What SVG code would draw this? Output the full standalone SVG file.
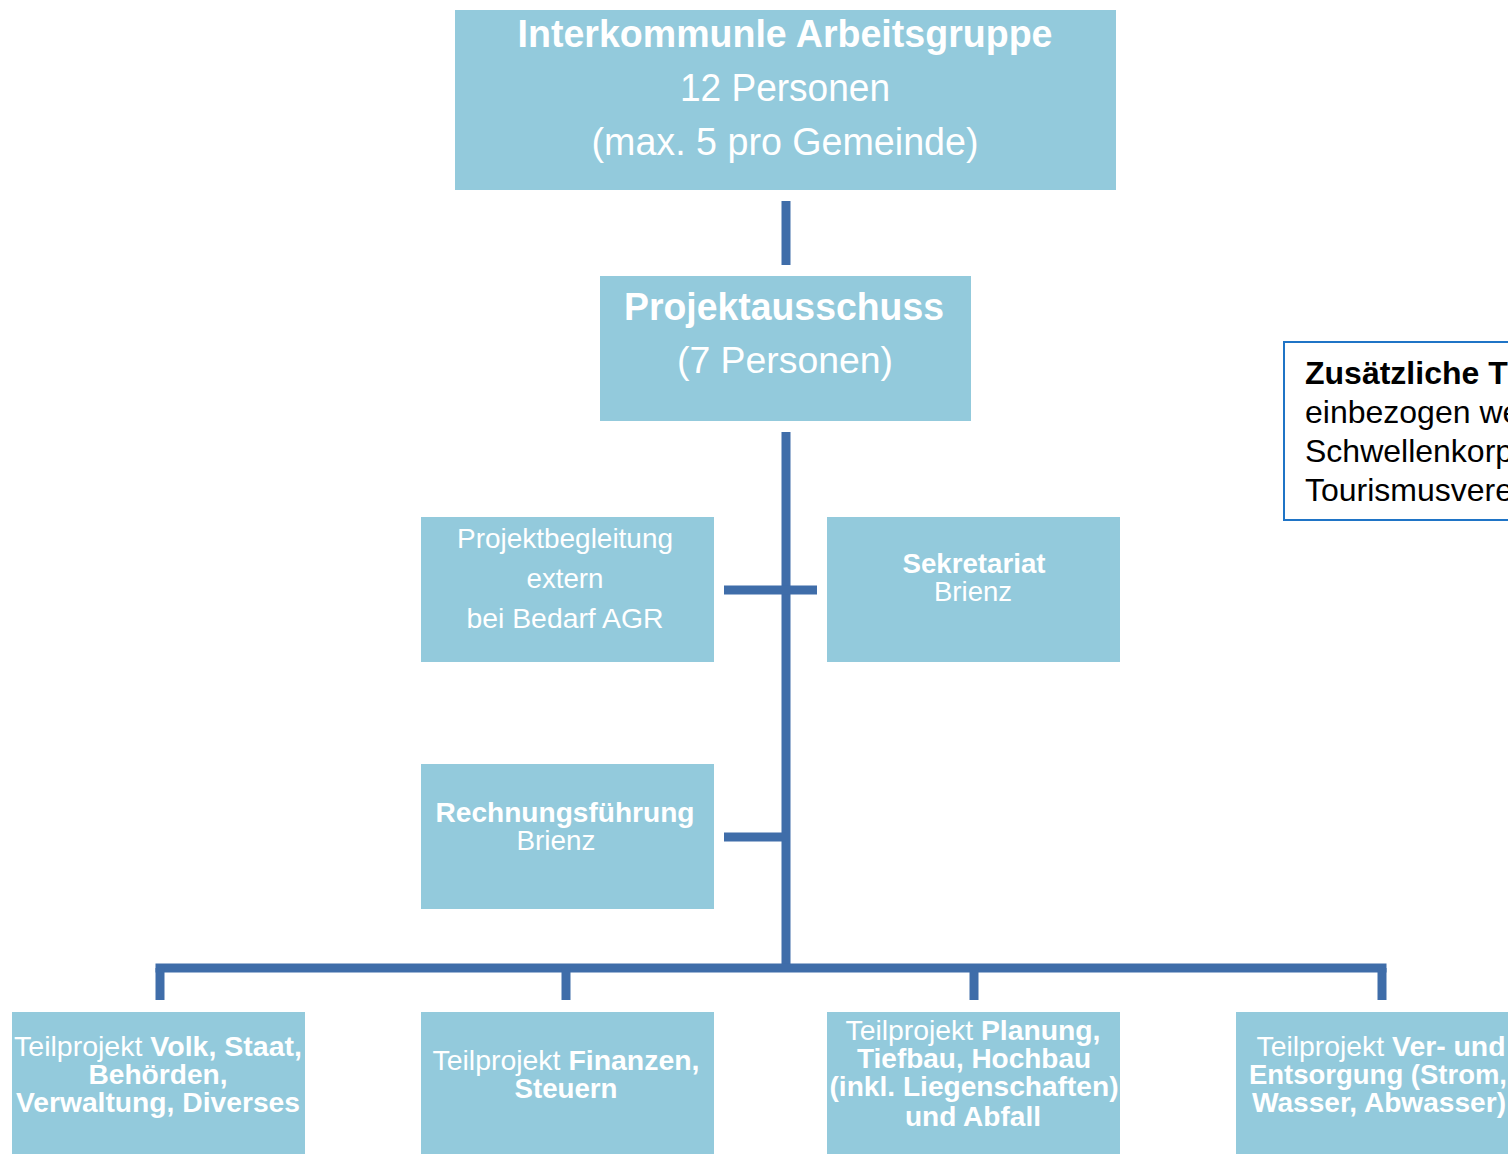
<svg xmlns="http://www.w3.org/2000/svg" width="1508" height="1154" viewBox="0 0 1508 1154">
<style>
.box{fill:#93CADC}
.t{font-family:"Liberation Sans",Arial,sans-serif;fill:#ffffff;text-anchor:middle}
.b{font-weight:bold}
.c{stroke:#3F6DA9;stroke-width:9;fill:none}
.note{font-family:"Liberation Sans",Arial,sans-serif;fill:#000;font-size:32px}
</style>
<rect width="1508" height="1154" fill="#fff"/>
<g id="connectors">
<line class="c" x1="786" y1="201" x2="786" y2="265"/>
<line class="c" x1="786" y1="432" x2="786" y2="972"/>
<line class="c" x1="724" y1="590" x2="817" y2="590"/>
<line class="c" x1="724" y1="837" x2="786" y2="837"/>
<line class="c" x1="155.5" y1="968" x2="1386.5" y2="968"/>
<line class="c" x1="160" y1="968" x2="160" y2="1000"/>
<line class="c" x1="566" y1="968" x2="566" y2="1000"/>
<line class="c" x1="974" y1="968" x2="974" y2="1000"/>
<line class="c" x1="1382" y1="968" x2="1382" y2="1000"/>
</g>
<g id="arbeitsgruppe">
<rect class="box" x="455" y="10" width="661" height="180"/>
<text class="t b" x="785" y="47" font-size="38" textLength="535" lengthAdjust="spacingAndGlyphs">Interkommunle Arbeitsgruppe</text>
<text class="t" x="785" y="101" font-size="38" textLength="210" lengthAdjust="spacingAndGlyphs">12 Personen</text>
<text class="t" x="785" y="155" font-size="38" textLength="387" lengthAdjust="spacingAndGlyphs">(max. 5 pro Gemeinde)</text>
</g>
<g id="projektausschuss">
<rect class="box" x="600" y="276" width="371" height="145"/>
<text class="t b" x="784" y="320" font-size="38" textLength="320" lengthAdjust="spacingAndGlyphs">Projektausschuss</text>
<text class="t" x="785" y="373" font-size="36" textLength="216" lengthAdjust="spacingAndGlyphs">(7 Personen)</text>
</g>
<g id="projektbegleitung">
<rect class="box" x="421" y="517" width="293" height="145"/>
<text class="t" x="565" y="548" font-size="28" textLength="216" lengthAdjust="spacingAndGlyphs">Projektbegleitung</text>
<text class="t" x="565" y="588" font-size="28" textLength="77" lengthAdjust="spacingAndGlyphs">extern</text>
<text class="t" x="565" y="628" font-size="28" textLength="197" lengthAdjust="spacingAndGlyphs">bei Bedarf AGR</text>
</g>
<g id="sekretariat">
<rect class="box" x="827" y="517" width="293" height="145"/>
<text class="t b" x="974" y="573" font-size="27" textLength="143" lengthAdjust="spacingAndGlyphs">Sekretariat</text>
<text class="t" x="973" y="601" font-size="27" textLength="78" lengthAdjust="spacingAndGlyphs">Brienz</text>
</g>
<g id="rechnungsfuehrung">
<rect class="box" x="421" y="764" width="293" height="145"/>
<text class="t b" x="565" y="822" font-size="28" textLength="259" lengthAdjust="spacingAndGlyphs">Rechnungsführung</text>
<text class="t" x="556" y="850" font-size="27" textLength="79" lengthAdjust="spacingAndGlyphs">Brienz</text>
</g>
<g id="tp-volk">
<rect class="box" x="12" y="1012" width="293" height="150"/>
<text class="t" x="158" y="1056" font-size="28" textLength="288" lengthAdjust="spacingAndGlyphs">Teilprojekt <tspan class="b">Volk, Staat,</tspan></text>
<text class="t b" x="158" y="1084" font-size="28" textLength="139" lengthAdjust="spacingAndGlyphs">Behörden,</text>
<text class="t b" x="158" y="1112" font-size="28" textLength="284" lengthAdjust="spacingAndGlyphs">Verwaltung, Diverses</text>
</g>
<g id="tp-finanzen">
<rect class="box" x="421" y="1012" width="293" height="150"/>
<text class="t" x="566" y="1070" font-size="28" textLength="267" lengthAdjust="spacingAndGlyphs">Teilprojekt <tspan class="b">Finanzen,</tspan></text>
<text class="t b" x="566" y="1098" font-size="28" textLength="103" lengthAdjust="spacingAndGlyphs">Steuern</text>
</g>
<g id="tp-planung">
<rect class="box" x="827" y="1012" width="293" height="150"/>
<text class="t" x="973" y="1040" font-size="28" textLength="255" lengthAdjust="spacingAndGlyphs">Teilprojekt <tspan class="b">Planung,</tspan></text>
<text class="t b" x="974" y="1068" font-size="28" textLength="234" lengthAdjust="spacingAndGlyphs">Tiefbau, Hochbau</text>
<text class="t b" x="974" y="1096" font-size="28" textLength="289" lengthAdjust="spacingAndGlyphs">(inkl. Liegenschaften)</text>
<text class="t b" x="973" y="1126" font-size="28" textLength="136" lengthAdjust="spacingAndGlyphs">und Abfall</text>
</g>
<g id="tp-versorgung">
<rect class="box" x="1236" y="1012" width="293" height="150"/>
<text class="t" x="1381" y="1056" font-size="28" textLength="249" lengthAdjust="spacingAndGlyphs">Teilprojekt <tspan class="b">Ver- und</tspan></text>
<text class="t b" x="1378" y="1084" font-size="28" textLength="258" lengthAdjust="spacingAndGlyphs">Entsorgung (Strom,</text>
<text class="t b" x="1379" y="1112" font-size="28" textLength="254" lengthAdjust="spacingAndGlyphs">Wasser, Abwasser)</text>
</g>
<g id="note">
<rect x="1284" y="342" width="240" height="178" fill="#fff" stroke="#1F74C6" stroke-width="2"/>
<text class="note" x="1305" y="384" font-weight="bold">Zusätzliche T</text>
<text class="note" x="1305" y="423">einbezogen we</text>
<text class="note" x="1305" y="462">Schwellenkorp</text>
<text class="note" x="1305" y="501">Tourismusvere</text>
</g>
</svg>
